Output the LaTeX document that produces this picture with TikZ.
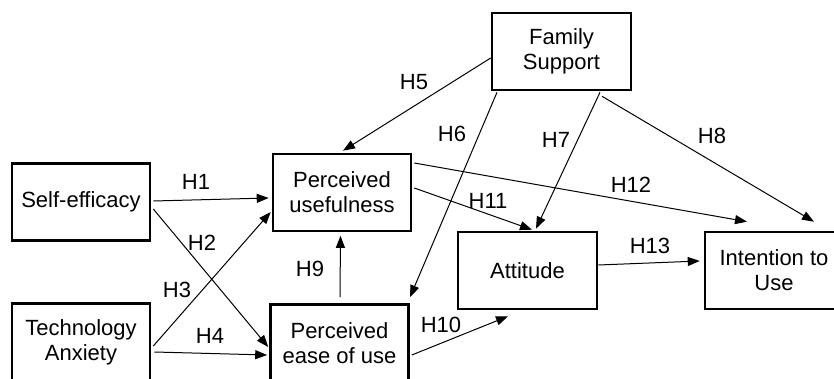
\documentclass[tikz,border=0pt]{standalone}
\usepackage{fontspec}
\setmainfont{Liberation Sans}
\usetikzlibrary{arrows.meta,calc}
\begin{document}
\begin{tikzpicture}[x=1pt,y=-1pt,
  box/.style={draw,line width=2.6pt,minimum width=138pt,minimum height=77pt,align=center,inner sep=0pt,font=\fontsize{22}{25}\selectfont},
  arr/.style={line width=1pt,-{Triangle[length=12pt,width=9pt]}},
  hl/.style={font=\fontsize{22}{25}\selectfont,inner sep=0pt}]
\useasboundingbox (0,0) rectangle (834,379);
\clip (0,0) rectangle (834,379);
\node[box] (se) at (81,202) {Self-efficacy};
\node[box] (ta) at (81,342) {Technology\\Anxiety};
\node[box] (pu) at (342,192.5) {Perceived\\usefulness};
\node[box] (peou) at (339.5,343) {Perceived\\ease of use};
\node[box,minimum width=139pt] (fs) at (561.5,51.5) {Family\\Support};
\node[box,minimum width=139pt] (att) at (527.5,270.5) {Attitude};
\node[box] (itu) at (774,270.5) {Intention to\\Use};

\draw[arr] ($(se.east)+(2,-1)$) -- ($(pu.west)+(-3,5.5)$);
\draw[arr] ($(se.east)+(2,7)$) -- ($(peou.west)+(-1,4)$);
\draw[arr] ($(ta.east)+(2,4)$) -- ($(pu.west)+(-1,19.5)$);
\draw[arr] ($(ta.east)+(3,10)$) -- ($(peou.west)+(-2,12)$);
\draw[arr] ($(fs.west)+(0,6.5)$) -- ($(pu.north)+(1,-2)$);
\draw[arr] ($(fs.south)+(-64.5,1)$) -- ($(peou.north)+(70.5,-6)$);
\draw[arr] ($(fs.south)+(38.5,1)$) -- ($(att.north)+(8.5,-2)$);
\draw[arr] ($(fs.south)+(40.5,5)$) -- ($(itu.north)+(40,-9)$);
\draw[arr] ($(peou.north)+(0.5,-6)$) -- ($(pu.south)+(-1.5,3.5)$);
\draw[arr] ($(peou.east)+(2,12)$) -- ($(att.south)+(-19.5,6)$);
\draw[arr] ($(pu.east)+(2,-4.5)$) -- ($(att.north)+(4.5,-1)$);
\draw[arr] ($(pu.east)+(2,-29.5)$) -- ($(itu.north)+(-27,-9)$);
\draw[arr] ($(att.east)+(0,-5.5)$) -- ($(itu.west)+(-4,-9.5)$);

\node[hl] (h1) at (196,182) {H1};
\node[hl] (h2) at (202,243) {H2};
\node[hl] (h3) at (177,290) {H3};
\node[hl] (h4) at (210,336) {H4};
\node[hl] (h5) at (414,82) {H5};
\node[hl] (h6) at (452,134) {H6};
\node[hl] (h7) at (556,140) {H7};
\node[hl] (h8) at (712,136) {H8};
\node[hl] (h9) at (310,269) {H9};
\node[hl] (h10) at (441,325) {H10};
\node[hl] (h11) at (488,201) {H11};
\node[hl] (h12) at (631,185) {H12};
\node[hl] (h13) at (650,246) {H13};
\end{tikzpicture}
\end{document}
